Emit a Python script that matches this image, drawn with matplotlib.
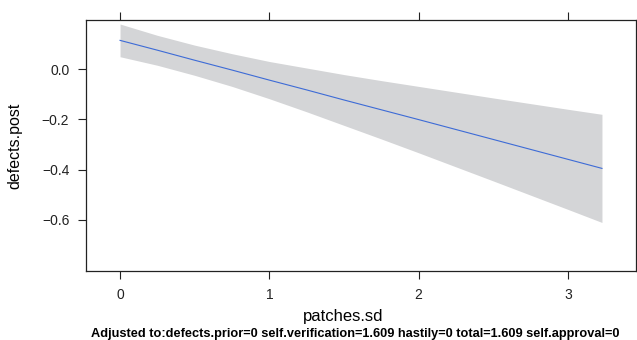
import matplotlib.pyplot as plt

# values (effect of patches.sd on defects.post)
patches_sd = [0.0, 0.25, 0.5, 0.75, 1.0, 1.25, 1.5, 1.75, 2.0, 2.5, 3.0, 3.228]
fit        = [0.114, 0.075, 0.035, -0.004, -0.044, -0.083, -0.123, -0.162,
              -0.201, -0.280, -0.359, -0.395]
upper      = [0.179, 0.134, 0.095, 0.061, 0.030, 0.004, -0.022, -0.046,
              -0.069, -0.115, -0.160, -0.180]
lower      = [0.049, 0.015, -0.025, -0.069, -0.118, -0.170, -0.224, -0.278,
              -0.333, -0.445, -0.558, -0.610]

x_ticks = [0, 1, 2, 3]
y_ticks = [0.0, -0.2, -0.4, -0.6]
y_tick_labels = ['0.0', '\u22120.2', '\u22120.4', '\u22120.6']

caption = ('Adjusted to:defects.prior=0 self.verification=1.609 hastily=0 '
           'total=1.609 self.approval=0')

plt.rcParams['font.family'] = ['Liberation Sans', 'DejaVu Sans']

fig = plt.figure(figsize=(6.37, 3.40), dpi=100)
ax = fig.add_axes([86 / 637, 69 / 340, 550 / 637, 251 / 340])

ax.fill_between(patches_sd, lower, upper, color='#d4d5d7', linewidth=0)
ax.plot(patches_sd, fit, color='#3d6bd6', linewidth=0.8)

ax.set_xlim(-0.228, 3.456)
ax.set_ylim(-0.803, 0.195)
ax.set_xticks(x_ticks)
ax.set_yticks(y_ticks)
ax.set_yticklabels(y_tick_labels)

ax.tick_params(direction='out', length=6, width=0.8, colors='#222222',
               labelsize=10, pad=6, top=True, right=True,
               labeltop=False, labelright=False)
for sp in ax.spines.values():
    sp.set_color('#222222')
    sp.set_linewidth(0.9)

fig.text(15 / 637, 1 - 146 / 340, 'defects.post', rotation=90,
         ha='center', va='center', fontsize=11.5)
fig.text(343 / 637, 1 - 317 / 340, 'patches.sd', ha='center', va='center',
         fontsize=12)
fig.text(355 / 637, 1 - 334 / 340, caption, ha='center', va='center',
         fontsize=9.2, fontweight='bold')

fig.savefig('out.png', dpi=100)
